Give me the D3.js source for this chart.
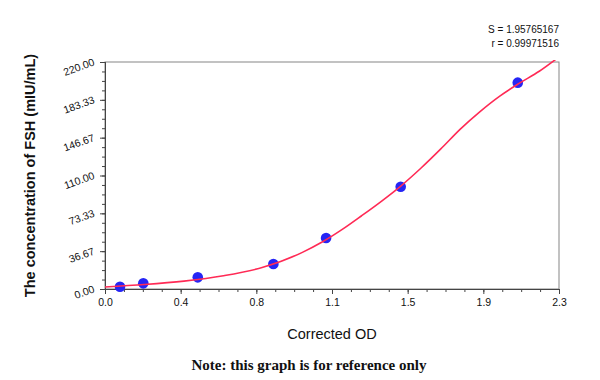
<!DOCTYPE html>
<html>
<head>
<meta charset="utf-8">
<script src="https://cdn.jsdelivr.net/npm/d3@7"></script>
<style>
  body { margin: 0; background: #fff; }
  svg { display: block; }
  text { font-family: "Liberation Sans", Arial, sans-serif; fill: #111; }
  .note { font-family: "Liberation Serif", "Times New Roman", serif; font-weight: bold; }
</style>
</head>
<body>
<svg width="600" height="380"></svg>
<script>
// standard points (corrected OD vs FSH concentration)
const pointOD = [0.076, 0.194, 0.47, 0.853, 1.12, 1.498, 2.091];
const pointFSH = [2.2, 5.5, 11.3, 24.2, 49.4, 99.1, 200];

// fitted curve
const curveOD = [0, 0.2, 0.4, 0.6, 0.8, 1.0, 1.1, 1.2, 1.3, 1.4, 1.5, 1.6, 1.7, 1.8, 1.9, 2.0, 2.1, 2.2, 2.3];
const curveFSH = [2.0, 4.3, 7.6, 12.8, 21.0, 35.5, 45.5, 57.5, 71, 85, 100, 117, 135.5, 155, 172, 187, 199.5, 211, 225];

const xTicks = [0, 0.3833, 0.7667, 1.15, 1.5333, 1.9167, 2.3];
const xTickLabels = ["0.0", "0.4", "0.8", "1.1", "1.5", "1.9", "2.3"];
const yTicks = [0, 36.667, 73.333, 110, 146.667, 183.333, 220];
const yTickLabels = ["0.00", "36.67", "73.33", "110.00", "146.67", "183.33", "220.00"];

const stats = ["S = 1.95765167", "r = 0.99971516"];

const svg = d3.select("svg");
const mLeft = 105, mRight = 559, mTop = 62, mBottom = 289;

const x = d3.scaleLinear().domain([0, 2.3]).range([mLeft, mRight]);
const y = d3.scaleLinear().domain([0, 220]).range([mBottom, mTop]);

// minor ticks: 4 subdivisions between majors
const minorX = d3.range(0, 25).map(i => i * 2.3 / 24);
const minorY = d3.range(0, 25).map(i => i * 220 / 24);

svg.append("defs").append("clipPath").attr("id", "plot")
  .append("rect").attr("x", mLeft).attr("y", mTop - 2)
  .attr("width", mRight - mLeft).attr("height", mBottom - mTop + 2);

// frame
svg.append("rect")
  .attr("x", mLeft).attr("y", mTop)
  .attr("width", mRight - mLeft).attr("height", mBottom - mTop)
  .attr("fill", "none").attr("stroke", "#858585").attr("stroke-width", 1);

const xAxis = svg.append("g")
  .attr("transform", `translate(0, ${mBottom})`)
  .call(d3.axisBottom(x).tickValues(minorX).tickSize(3).tickFormat(""));
const xMajor = svg.append("g")
  .attr("transform", `translate(0, ${mBottom})`)
  .call(d3.axisBottom(x).tickValues(xTicks).tickSize(5).tickPadding(5)
    .tickFormat((d, i) => xTickLabels[i]));

const yAxis = svg.append("g")
  .attr("transform", `translate(${mLeft}, 0)`)
  .call(d3.axisLeft(y).tickValues(minorY).tickSize(3).tickFormat(""));
const yMajor = svg.append("g")
  .attr("transform", `translate(${mLeft}, 0)`)
  .call(d3.axisLeft(y).tickValues(yTicks).tickSize(5).tickFormat((d, i) => yTickLabels[i]));

[xAxis, xMajor, yAxis, yMajor].forEach(g => {
  g.select(".domain").attr("stroke", "#444");
  g.selectAll(".tick line").attr("stroke", "#444");
});

xMajor.selectAll(".tick text")
  .attr("font-size", 10.5).attr("font-family", "Liberation Sans, Arial, sans-serif").attr("fill", "#111");

yMajor.selectAll(".tick text")
  .attr("font-size", 10.5)
  .attr("font-family", "Liberation Sans, Arial, sans-serif")
  .attr("fill", "#111")
  .attr("x", 0).attr("dy", "0.35em")
  .attr("text-anchor", "end")
  .attr("transform", "translate(-11, -1) rotate(-20)");

// points
svg.append("g").selectAll("circle")
  .data(pointOD)
  .join("circle")
  .attr("cx", d => x(d))
  .attr("cy", (d, i) => y(pointFSH[i]))
  .attr("r", 5.3)
  .attr("fill", "#2525f5");

// curve over the points
const line = d3.line()
  .x(d => x(d[0]))
  .y(d => y(d[1]))
  .curve(d3.curveMonotoneX);

svg.append("path")
  .datum(curveOD.map((d, i) => [d, curveFSH[i]]))
  .attr("clip-path", "url(#plot)")
  .attr("d", line)
  .attr("fill", "none")
  .attr("stroke", "#ff2a55")
  .attr("stroke-width", 1.6);

// labels
svg.append("text")
  .attr("x", (mLeft + mRight) / 2).attr("y", 339)
  .attr("text-anchor", "middle").attr("font-size", 14.5)
  .text("Corrected OD");

svg.append("text")
  .attr("transform", `translate(35, ${(mTop + mBottom) / 2}) rotate(-90)`)
  .attr("text-anchor", "middle").attr("font-size", 14.5).attr("font-weight", "bold")
  .text("The concentration of FSH (mIU/mL)");

svg.selectAll(".stat")
  .data(stats)
  .join("text")
  .attr("class", "stat")
  .attr("x", mRight).attr("y", (d, i) => 33 + i * 14)
  .attr("text-anchor", "end").attr("font-size", 10)
  .text(d => d);

svg.append("text")
  .attr("class", "note")
  .attr("x", 309).attr("y", 370)
  .attr("text-anchor", "middle").attr("font-size", 15)
  .text("Note: this graph is for reference only");
</script>
</body>
</html>
